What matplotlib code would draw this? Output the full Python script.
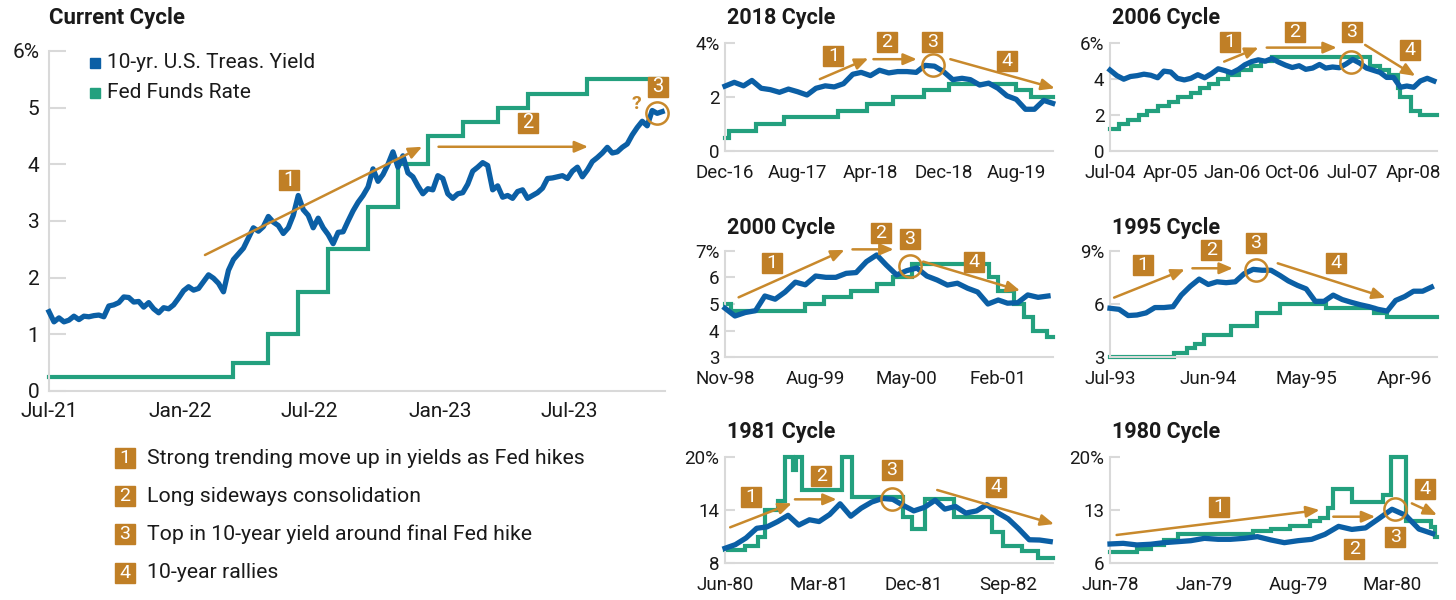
import matplotlib
matplotlib.use('Agg')
import matplotlib.pyplot as plt
import matplotlib.dates as mdates
from matplotlib.lines import Line2D
import pandas as pd

plt.rcParams['font.family'] = ['Roboto', 'DejaVu Sans']

BLUE = '#0B5FA5'
GREEN = '#23A07E'
GOLD = '#C07F26'
ARROW = '#C8892C'
AXC = '#D9D9D9'
TXT = '#1A1A1A'
W, H = 1456, 600

# ---------------- data ----------------
# current cycle, weekly 10-yr yield from Jul-2021
cur_start = '2021-07-01'
cur_y10 = [1.40, 1.22, 1.29, 1.22, 1.25, 1.32, 1.26, 1.32, 1.31, 1.33,
           1.34, 1.31, 1.50, 1.52, 1.56, 1.66, 1.65, 1.57, 1.58, 1.48,
           1.56, 1.45, 1.38, 1.47, 1.45, 1.52, 1.64, 1.77, 1.84, 1.78,
           1.81, 1.93, 2.05, 1.99, 1.90, 1.75, 2.13, 2.32, 2.42, 2.52,
           2.70, 2.88, 2.82, 2.90, 3.08, 2.98, 2.92, 2.78, 2.88, 3.10,
           3.45, 3.20, 3.10, 2.88, 3.05, 2.88, 2.76, 2.60, 2.80, 2.81,
           3.00, 3.18, 3.33, 3.45, 3.60, 3.92, 3.70, 3.82, 4.00, 4.22,
           3.95, 4.15, 3.85, 3.78, 3.62, 3.48, 3.57, 3.55, 3.80, 3.75,
           3.48, 3.40, 3.48, 3.50, 3.65, 3.88, 3.95, 4.03, 3.98, 3.55,
           3.62, 3.42, 3.45, 3.40, 3.52, 3.55, 3.40, 3.45, 3.50, 3.58,
           3.75, 3.76, 3.78, 3.80, 3.75, 3.88, 3.95, 3.78, 3.90, 4.05,
           4.12, 4.20, 4.30, 4.20, 4.22, 4.30, 4.36, 4.52, 4.65, 4.76,
           4.68, 4.95, 4.90, 4.93]
cur_ff_dates = ['2021-07-01', '2022-03-17', '2022-05-05', '2022-06-16', '2022-07-28',
                '2022-09-22', '2022-11-03', '2022-12-15', '2023-02-02', '2023-03-23',
                '2023-05-04', '2023-07-27', '2023-11-09']
cur_ff = [0.25, 0.50, 1.00, 1.75, 2.50, 3.25, 4.00, 4.50, 4.75, 5.00, 5.25, 5.50, 5.50]

# past cycles, monthly 10-yr yield
y18_start = '2016-12-01'
y18 = [2.41, 2.55, 2.42, 2.62, 2.33, 2.28, 2.18, 2.30, 2.20, 2.08,
       2.33, 2.42, 2.38, 2.50, 2.85, 2.92, 2.80, 3.00, 2.90, 2.95,
       2.95, 2.92, 3.18, 3.15, 2.95, 2.65, 2.70, 2.65, 2.45, 2.52,
       2.33, 2.05, 1.92, 1.55, 1.55, 1.88, 1.77]
ff18_dates = ['2016-12-01', '2016-12-15', '2017-03-16', '2017-06-15', '2017-12-14',
              '2018-03-22', '2018-06-14', '2018-09-27', '2018-12-20', '2019-08-01',
              '2019-09-19', '2019-12-01']
ff18 = [0.50, 0.75, 1.00, 1.25, 1.50, 1.75, 2.00, 2.25, 2.50, 2.25, 2.00, 2.00]

y06_start = '2004-07-01'
y06 = [4.51, 4.20, 4.00, 4.15, 4.20, 4.28, 4.22, 4.08, 4.45, 4.40,
       4.05, 3.96, 4.05, 4.25, 4.08, 4.30, 4.58, 4.48, 4.35, 4.55,
       4.80, 4.98, 5.08, 5.00, 5.15, 4.95, 4.78, 4.65, 4.75, 4.55,
       4.62, 4.82, 4.62, 4.68, 4.64, 4.85, 5.10, 4.90, 4.62, 4.50,
       4.38, 4.10, 4.10, 3.55, 3.62, 3.55, 3.90, 4.05, 3.90]
ff06_dates = ['2004-07-01', '2004-08-11', '2004-09-22', '2004-11-11', '2004-12-15',
              '2005-02-03', '2005-03-23', '2005-05-04', '2005-07-01', '2005-08-10',
              '2005-09-21', '2005-11-02', '2005-12-14', '2006-02-01', '2006-03-29',
              '2006-05-11', '2006-06-30', '2007-09-19', '2007-11-01', '2007-12-12',
              '2008-01-23', '2008-01-31', '2008-03-19', '2008-05-01', '2008-07-15']
ff06 = [1.25, 1.50, 1.75, 2.00, 2.25, 2.50, 2.75, 3.00, 3.25, 3.50, 3.75, 4.00, 4.25,
        4.50, 4.75, 5.00, 5.25, 4.75, 4.50, 4.25, 3.50, 3.00, 2.25, 2.00, 2.00]

y00_start = '1998-11-01'
y00 = [4.84, 4.55, 4.68, 4.75, 5.30, 5.18, 5.45, 5.82, 5.72, 6.05,
       6.00, 6.00, 6.15, 6.18, 6.59, 6.84, 6.46, 6.09, 6.25, 6.35,
       6.05, 5.90, 5.71, 5.78, 5.59, 5.45, 5.00, 5.15, 5.03, 5.05,
       5.34, 5.25, 5.30]
ff00_dates = ['1998-11-01', '1998-11-18', '1999-07-01', '1999-08-25', '1999-11-17',
              '2000-02-03', '2000-03-22', '2000-05-17', '2001-01-04', '2001-02-01',
              '2001-03-21', '2001-04-19', '2001-05-16', '2001-06-28', '2001-07-16']
ff00 = [5.00, 4.75, 5.00, 5.25, 5.50, 5.75, 6.00, 6.50, 6.00, 5.50, 5.00, 4.50, 4.00,
        3.75, 3.75]

y95_start = '1993-07-01'
y95 = [5.76, 5.70, 5.35, 5.38, 5.50, 5.80, 5.80, 5.85, 6.50, 7.00,
       7.40, 7.10, 7.25, 7.20, 7.25, 7.70, 7.95, 7.90, 7.90, 7.60,
       7.30, 7.05, 6.85, 6.15, 6.15, 6.50, 6.25, 6.10, 5.96, 5.85,
       5.70, 5.60, 6.20, 6.42, 6.72, 6.72, 6.95]
ff95_dates = ['1993-07-01', '1994-02-04', '1994-03-22', '1994-04-18', '1994-05-17',
              '1994-08-16', '1994-11-15', '1995-02-01', '1995-07-06', '1995-12-19',
              '1996-01-31', '1996-07-20']
ff95 = [3.00, 3.25, 3.50, 3.75, 4.25, 4.75, 5.50, 6.00, 5.75, 5.50, 5.25, 5.25]

y81_start = '1980-06-01'
y81 = [9.69, 10.10, 10.85, 11.94, 12.10, 12.70, 13.40, 12.30, 12.90, 12.70,
       13.50, 14.70, 13.30, 14.20, 14.90, 15.30, 15.20, 14.50, 13.90, 14.30,
       15.10, 14.10, 14.40, 13.65, 13.90, 14.60, 13.70, 13.00, 11.90, 10.65,
       10.62, 10.45]
ff81_dates = ['1980-06-01', '1980-07-29', '1980-09-06', '1980-09-25', '1980-11-03',
              '1980-11-22', '1980-12-16', '1980-12-24', '1981-01-10', '1981-05-06',
              '1981-06-04', '1981-11-01', '1981-11-25', '1982-01-03', '1982-03-28',
              '1982-07-15', '1982-08-18', '1982-10-10', '1982-11-27', '1983-01-09']
ff81 = [9.5, 10.0, 11.0, 14.0, 15.0, 20.0, 18.5, 20.0, 16.25, 20.0, 15.5, 13.25, 11.9,
        15.2, 13.25, 11.5, 10.0, 9.4, 8.6, 8.6]

y80_start = '1978-06-01'
y80 = [8.54, 8.62, 8.41, 8.50, 8.71, 8.84, 8.97, 9.28, 9.15, 9.15,
       9.28, 9.50, 9.06, 8.71, 8.97, 9.15, 9.80, 10.85, 10.45, 10.65,
       11.90, 13.10, 12.30, 10.50, 9.90]
ff80_dates = ['1978-06-01', '1978-08-01', '1978-09-01', '1978-10-01', '1978-11-01',
              '1979-04-20', '1979-06-01', '1979-07-15', '1979-08-29', '1979-09-20',
              '1979-10-09', '1979-10-20', '1979-12-01', '1980-02-10', '1980-02-28',
              '1980-04-01', '1980-05-28', '1980-06-07', '1980-06-11']
ff80 = [7.5, 7.9, 8.4, 9.1, 9.9, 10.3, 10.5, 10.9, 11.5, 11.9, 13.2, 15.7, 14.1, 15.0,
        20.0, 11.6, 10.8, 9.5, 9.5]

notes = ['Strong trending move up in yields as Fed hikes',
         'Long sideways consolidation',
         'Top in 10-year yield around final Fed hike',
         '10-year rallies']


def day(start, d):
    return pd.Timestamp(start) + pd.Timedelta(days=d)


def rect(x0, y_top, x1, y_bot):
    return [x0 / W, 1 - y_bot / H, (x1 - x0) / W, (y_bot - y_top) / H]


def style(ax, yticks, ylabels, xticks, tick_len, fs, xpad):
    for s in ['top', 'right']:
        ax.spines[s].set_visible(False)
    for s in ['left', 'bottom']:
        ax.spines[s].set_color(AXC)
        ax.spines[s].set_linewidth(1.5)
    ax.set_yticks(yticks)
    ax.set_yticklabels(ylabels)
    ax.set_xticks([pd.Timestamp(t) for t in xticks])
    ax.xaxis.set_major_formatter(mdates.DateFormatter('%b-%y'))
    ax.tick_params(axis='y', direction='in', length=tick_len, width=1.5, color=AXC,
                   labelsize=fs, labelcolor=TXT, pad=5)
    ax.tick_params(axis='x', length=0, labelsize=fs, labelcolor=TXT, pad=xpad)


def draw_lines(ax, start, yvals, freq, ffd, ffv):
    dates = pd.date_range(start, periods=len(yvals), freq=freq)
    ax.plot(pd.to_datetime(ffd), ffv, drawstyle='steps-post', color=GREEN, lw=3.0,
            solid_joinstyle='miter', clip_on=False, zorder=2)
    ax.plot(dates, yvals, color=BLUE, lw=3.8, solid_joinstyle='round', clip_on=False, zorder=3)


def marks(ax, start, arrows, boxes, circle, ms=14, fs=13):
    for (d0, v0, d1, v1) in arrows:
        ax.annotate('', xy=(day(start, d1), v1), xytext=(day(start, d0), v0),
                    arrowprops=dict(arrowstyle='-|>,head_length=0.4,head_width=0.17',
                                    color=ARROW, lw=1.8, shrinkA=0, shrinkB=0,
                                    mutation_scale=20),
                    annotation_clip=False, zorder=5)
    for (lab, d, v) in boxes:
        ax.plot([day(start, d)], [v], marker='s', ms=ms, color=GOLD, ls='none',
                clip_on=False, zorder=6)
        ax.text(day(start, d), v, lab, color='white', fontsize=fs, ha='center',
                va='center', zorder=7, clip_on=False)
    d, v = circle
    ax.plot([day(start, d)], [v], marker='o', ms=16, mfc='none', mec=ARROW, mew=1.8,
            ls='none', clip_on=False, zorder=6)


fig = plt.figure(figsize=(W / 100, H / 100), dpi=100)

# ---------------- current cycle ----------------
ax = fig.add_axes(rect(49, 51, 665, 391))
draw_lines(ax, cur_start, cur_y10, '7D', cur_ff_dates, cur_ff)
ax.set_xlim(pd.Timestamp('2021-07-01'), pd.Timestamp('2023-11-13'))
ax.set_ylim(0, 6)
style(ax, [0, 1, 2, 3, 4, 5, 6], ['0', '1', '2', '3', '4', '5', '6%'],
      ['2021-07-01', '2022-01-01', '2022-07-01', '2023-01-01', '2023-07-01'], 12, 15, 8)
ax.tick_params(axis='y', pad=7)
marks(ax, cur_start,
      arrows=[(219, 2.40, 524, 4.31), (547, 4.31, 757, 4.31)],
      boxes=[('1', 337, 3.72), ('2', 672, 4.73), ('3', 855, 5.37)],
      circle=(854, 4.91), ms=14.5, fs=14.5)
ax.text(day(cur_start, 825), 5.07, '?', color=ARROW, fontsize=14, fontweight='bold',
        ha='center', va='center')
fig.text(49 / W, 1 - 18 / H, 'Current Cycle', fontsize=16, fontweight='bold',
         color=TXT, ha='left', va='center')

# legend
for yy, col, lab in [(63, BLUE, '10-yr. U.S. Treas. Yield'), (93, GREEN, 'Fed Funds Rate')]:
    fig.add_artist(Line2D([95 / W], [1 - yy / H], marker='s', ms=7.5, color=col,
                          ls='none', transform=fig.transFigure))
    fig.text(107 / W, 1 - yy / H, lab, fontsize=15, color=TXT, ha='left', va='center')

# numbered notes
for i, note in enumerate(notes):
    yy = 458 + i * 38.2
    fig.add_artist(Line2D([125 / W], [1 - yy / H], marker='s', ms=14.5, color=GOLD,
                          ls='none', transform=fig.transFigure))
    fig.text(125 / W, 1 - yy / H, str(i + 1), fontsize=14, color='white',
             ha='center', va='center')
    fig.text(147 / W, 1 - yy / H, note, fontsize=15.3, color=TXT, ha='left', va='center')

# ---------------- past cycles ----------------
L0, L1, R0, R1 = 725, 1053, 1110, 1437
rows = [(43.3, 151), (250.7, 357.3), (456.7, 563.3)]
title_y = [18, 228, 432]
label_pad = 9

panels = [
    dict(title='2018 Cycle', box=(L0, L1, 0), start=y18_start, y=y18, ffd=ff18_dates, ff=ff18,
         xlim=('2016-12-01', '2019-12-02'), ylim=(0, 4), yt=[0, 2, 4], yl=['0', '2', '4%'],
         xt=['2016-12-01', '2017-08-01', '2018-04-01', '2018-12-01', '2019-08-01'],
         arrows=[(317, 2.67, 479, 3.44), (496, 3.41, 641, 3.41), (753, 3.41, 1102, 2.33)],
         boxes=[('1', 362, 3.53), ('2', 541, 4.06), ('3', 692, 4.06), ('4', 943, 3.36)],
         circle=(695, 3.20)),
    dict(title='2006 Cycle', box=(R0, R1, 0), start=y06_start, y=y06, ffd=ff06_dates, ff=ff06,
         xlim=('2004-07-01', '2008-07-15'), ylim=(0, 6), yt=[0, 2, 4, 6], yl=['0', '2', '4', '6%'],
         xt=['2004-07-01', '2005-04-01', '2006-01-01', '2006-10-01', '2007-07-01', '2008-04-01'],
         arrows=[(515, 4.98, 670, 5.76), (707, 5.76, 1023, 5.76), (1151, 5.91, 1377, 4.18)],
         boxes=[('1', 542, 6.09), ('2', 835, 6.65), ('3', 1091, 6.65), ('4', 1354, 5.63)],
         circle=(1088, 4.98)),
    dict(title='2000 Cycle', box=(L0, L1, 1), start=y00_start, y=y00, ffd=ff00_dates, ff=ff00,
         xlim=('1998-11-01', '2001-07-16'), ylim=(3, 7), yt=[3, 4, 5, 6, 7],
         yl=['3', '4', '5', '6', '7%'],
         xt=['1998-11-01', '1999-08-01', '2000-05-01', '2001-02-01'],
         arrows=[(41, 5.25, 360, 7.03), (384, 7.05, 508, 7.05), (597, 6.59, 889, 5.50)],
         boxes=[('1', 142, 6.53), ('2', 469, 7.65), ('3', 557, 7.43), ('4', 751, 6.59)],
         circle=(557, 6.44)),
    dict(title='1995 Cycle', box=(R0, R1, 1), start=y95_start, y=y95, ffd=ff95_dates, ff=ff95,
         xlim=('1993-07-01', '1996-07-20'), ylim=(3, 9), yt=[3, 6, 9], yl=['3', '6', '9%'],
         xt=['1993-07-01', '1994-06-01', '1995-05-01', '1996-04-01'],
         arrows=[(14, 6.36, 255, 7.95), (281, 8.01, 419, 8.01), (572, 8.29, 940, 6.36)],
         boxes=[('1', 113, 8.19), ('2', 346, 9.04), ('3', 498, 9.45), ('4', 770, 8.29)],
         circle=(498, 7.91)),
    dict(title='1981 Cycle', box=(L0, L1, 2), start=y81_start, y=y81, ffd=ff81_dates, ff=ff81,
         xlim=('1980-06-01', '1983-01-09'), ylim=(8, 20), yt=[8, 14, 20], yl=['8', '14', '20%'],
         xt=['1980-06-01', '1981-03-01', '1981-12-01', '1982-09-01'],
         arrows=[(15, 12.05, 194, 14.75), (203, 15.2, 324, 15.2), (616, 16.25, 955, 12.42)],
         boxes=[('1', 75, 15.5), ('2', 279, 17.82), ('3', 484, 18.5), ('4', 786, 16.55)],
         circle=(484, 15.24)),
    dict(title='1980 Cycle', box=(R0, R1, 2), start=y80_start, y=y80, ffd=ff80_dates, ff=ff80,
         xlim=('1978-06-01', '1980-06-11'), ylim=(6, 20), yt=[6, 13, 20], yl=['6', '13', '20%'],
         xt=['1978-06-01', '1979-01-01', '1979-08-01', '1980-03-01'],
         arrows=[(15, 9.72, 475, 13.0), (506, 12.12, 601, 12.12), (684, 13.87, 741, 12.34)],
         boxes=[('1', 246, 13.44), ('2', 554, 7.88), ('3', 646, 9.5), ('4', 714, 15.71)],
         circle=(646, 13.09)),
]

for p in panels:
    x0, x1, r = p['box']
    top, bot = rows[r]
    ax = fig.add_axes(rect(x0, top, x1, bot))
    draw_lines(ax, p['start'], p['y'], 'MS', p['ffd'], p['ff'])
    ax.set_xlim(pd.Timestamp(p['xlim'][0]), pd.Timestamp(p['xlim'][1]))
    ax.set_ylim(*p['ylim'])
    style(ax, p['yt'], p['yl'], p['xt'], 7, 13.5, label_pad)
    ax.tick_params(axis='y', pad=4)
    marks(ax, p['start'], p['arrows'], p['boxes'], p['circle'], ms=14, fs=14)
    fig.text((x0 + 2) / W, 1 - title_y[r] / H, p['title'], fontsize=15.5, fontweight='bold',
             color=TXT, ha='left', va='center')

fig.savefig('out.png', dpi=100)
